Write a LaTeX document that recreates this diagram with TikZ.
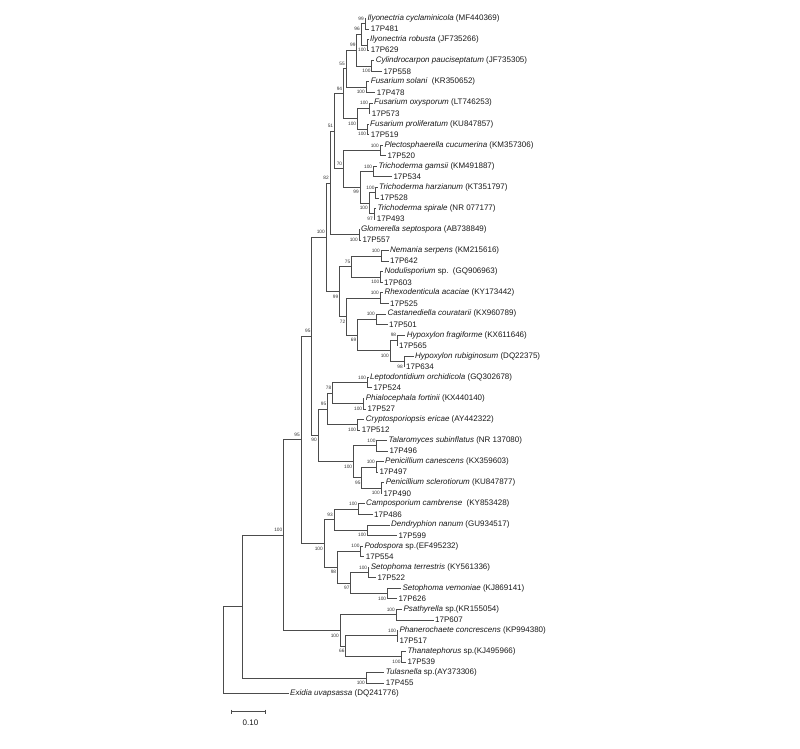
\documentclass[tikz,border=0pt]{standalone}
\usepackage{fontspec}
\setmainfont{Liberation Sans}
\tikzset{
  branch/.style={draw=black!70, line width=0.7pt},
  taxon/.style={anchor=west, inner sep=1.5pt, font=\fontsize{8}{9}\selectfont, text=black!90},
  boot/.style={anchor=east, inner sep=0pt, xshift=-1pt, font=\fontsize{4.8}{5.5}\selectfont, text=black!80},
  bu/.style={boot, yshift=5pt},
  bd/.style={boot, yshift=-5pt},
}
\begin{document}
\begin{tikzpicture}[x=1pt,y=-1pt]
\useasboundingbox (0,0) rectangle (800,748);
% taxa
\node[taxon] (t01) at (365.8,18.5) {\textit{Ilyonectria cyclaminicola} (MF440369)};
\node[taxon] (t02) at (369.2,29.05) {17P481};
\node[taxon] (t03) at (368.5,39.6) {\textit{Ilyonectria robusta} (JF735266)};
\node[taxon] (t04) at (369.2,50.15) {17P629};
\node[taxon] (t05) at (374.2,60.7) {\textit{Cylindrocarpon pauciseptatum} (JF735305)};
\node[taxon] (t06) at (381.8,71.25) {17P558};
\node[taxon] (t07) at (369.2,81.8) {\textit{Fusarium solani}\ \ (KR350652)};
\node[taxon] (t08) at (375.2,92.35) {17P478};
\node[taxon] (t09) at (372.5,102.9) {\textit{Fusarium oxysporum} (LT746253)};
\node[taxon] (t10) at (370.2,113.45) {17P573};
\node[taxon] (t11) at (368.5,124.0) {\textit{Fusarium proliferatum} (KU847857)};
\node[taxon] (t12) at (369.2,134.55) {17P519};
\node[taxon] (t13) at (382.8,145.1) {\textit{Plectosphaerella cucumerina} (KM357306)};
\node[taxon] (t14) at (385.8,155.65) {17P520};
\node[taxon] (t15) at (376.8,166.2) {\textit{Trichoderma gamsii} (KM491887)};
\node[taxon] (t16) at (391.8,176.75) {17P534};
\node[taxon] (t17) at (377.5,187.3) {\textit{Trichoderma harzianum} (KT351797)};
\node[taxon] (t18) at (378.5,197.85) {17P528};
\node[taxon] (t19) at (375.8,208.4) {\textit{Trichoderma spirale} (NR 077177)};
\node[taxon] (t20) at (375.2,218.95) {17P493};
\node[taxon] (t21) at (359.5,229.5) {\textit{Glomerella septospora} (AB738849)};
\node[taxon] (t22) at (360.8,240.05) {17P557};
\node[taxon] (t23) at (388.5,250.6) {\textit{Nemania serpens} (KM215616)};
\node[taxon] (t24) at (388.5,261.15) {17P642};
\node[taxon] (t25) at (382.8,271.7) {\textit{Nodulisporium} sp.\ \ (GQ906963)};
\node[taxon] (t26) at (382.5,282.25) {17P603};
\node[taxon] (t27) at (382.8,292.8) {\textit{Rhexodenticula acaciae} (KY173442)};
\node[taxon] (t28) at (388.5,303.35) {17P525};
\node[taxon] (t29) at (385.8,313.9) {\textit{Castanediella couratarii} (KX960789)};
\node[taxon] (t30) at (387.5,324.45) {17P501};
\node[taxon] (t31) at (405.2,335.0) {\textit{Hypoxylon fragiforme} (KX611646)};
\node[taxon] (t32) at (397.5,345.55) {17P565};
\node[taxon] (t33) at (413.5,356.1) {\textit{Hypoxylon rubiginosum} (DQ22375)};
\node[taxon] (t34) at (404.5,366.65) {17P634};
\node[taxon] (t35) at (368.5,377.2) {\textit{Leptodontidium orchidicola} (GQ302678)};
\node[taxon] (t36) at (371.8,387.75) {17P524};
\node[taxon] (t37) at (364.2,398.3) {\textit{Phialocephala fortinii} (KX440140)};
\node[taxon] (t38) at (365.8,408.85) {17P527};
\node[taxon] (t39) at (364.2,419.4) {\textit{Cryptosporiopsis ericae} (AY442322)};
\node[taxon] (t40) at (360.2,429.95) {17P512};
\node[taxon] (t41) at (386.8,440.5) {\textit{Talaromyces subinflatus} (NR 137080)};
\node[taxon] (t42) at (387.8,451.05) {17P496};
\node[taxon] (t43) at (383.5,461.6) {\textit{Penicillium canescens} (KX359603)};
\node[taxon] (t44) at (377.8,472.15) {17P497};
\node[taxon] (t45) at (384.2,482.7) {\textit{Penicillium sclerotiorum} (KU847877)};
\node[taxon] (t46) at (381.8,493.25) {17P490};
\node[taxon] (t47) at (364.5,503.8) {\textit{Camposporium cambrense}\ \ (KY853428)};
\node[taxon] (t48) at (372.5,514.35) {17P486};
\node[taxon] (t49) at (389.5,524.9) {\textit{Dendryphion nanum} (GU934517)};
\node[taxon] (t50) at (396.8,535.45) {17P599};
\node[taxon] (t51) at (362.8,546.0) {\textit{Podospora} sp.(EF495232)};
\node[taxon] (t52) at (364.2,556.55) {17P554};
\node[taxon] (t53) at (369.2,567.1) {\textit{Setophoma terrestris} (KY561336)};
\node[taxon] (t54) at (375.8,577.65) {17P522};
\node[taxon] (t55) at (400.8,588.2) {\textit{Setophoma vernoniae} (KJ869141)};
\node[taxon] (t56) at (396.8,598.75) {17P626};
\node[taxon] (t57) at (401.8,609.3) {\textit{Psathyrella} sp.(KR155054)};
\node[taxon] (t58) at (433.5,619.85) {17P607};
\node[taxon] (t59) at (397.8,630.4) {\textit{Phanerochaete concrescens} (KP994380)};
\node[taxon] (t60) at (397.8,640.95) {17P517};
\node[taxon] (t61) at (405.8,651.5) {\textit{Thanatephorus} sp.(KJ495966)};
\node[taxon] (t62) at (405.8,662.05) {17P539};
\node[taxon] (t63) at (384.2,672.6) {\textit{Tulasnella} sp.(AY373306)};
\node[taxon] (t64) at (384.2,683.15) {17P455};
\node[taxon] (t65) at (288.5,693.7) {\textit{Exidia uvapsassa} (DQ241776)};
% internal nodes
\coordinate (R) at (223,650.1);
\coordinate (A) at (242.5,606.49);
\coordinate (B) at (283.5,535.1);
\coordinate (Asc) at (301,439.8);
\coordinate (S) at (311.7,336.24);
\coordinate (S1) at (326,237.25);
\coordinate (S1a) at (330,183.01);
\coordinate (N12) at (334.3,131.25);
\coordinate (N8) at (343.3,93.67);
\coordinate (N6) at (346,68.61);
\coordinate (N4) at (356.7,50.15);
\coordinate (N2) at (361,34.33);
\coordinate (N1) at (365,23.78);
\coordinate (N3) at (367.3,44.88);
\coordinate (N5) at (371.7,65.98);
\coordinate (N7) at (366,87.08);
\coordinate (N9) at (357.3,118.73);
\coordinate (N10) at (369.3,108.18);
\coordinate (N11) at (367.3,129.28);
\coordinate (N13) at (343.3,168.84);
\coordinate (Ple) at (380,150.38);
\coordinate (Tri) at (360,187.3);
\coordinate (Tga) at (373.3,171.48);
\coordinate (HS) at (369,203.13);
\coordinate (Tha) at (375.7,192.58);
\coordinate (Tsp) at (374,213.68);
\coordinate (Glo) at (359,234.78);
\coordinate (X) at (339.5,291.48);
\coordinate (N75) at (351.5,266.43);
\coordinate (Nem) at (381,255.88);
\coordinate (Nod) at (380.5,276.98);
\coordinate (N72) at (346.5,316.54);
\coordinate (Rhx) at (380,298.08);
\coordinate (N69) at (357.5,335.0);
\coordinate (Cas) at (376,319.18);
\coordinate (Hyp) at (390,350.83);
\coordinate (Hfr) at (397.3,340.28);
\coordinate (Hru) at (404,361.38);
\coordinate (N90) at (318,435.23);
\coordinate (Leo) at (327.5,408.85);
\coordinate (N78) at (332.5,393.03);
\coordinate (Lep) at (367.3,382.48);
\coordinate (Phi) at (363.3,403.58);
\coordinate (Cry) at (357.3,424.68);
\coordinate (Eur) at (353.3,461.6);
\coordinate (Tal) at (376.7,445.78);
\coordinate (Pen) at (361.7,477.43);
\coordinate (Pca) at (376,466.88);
\coordinate (Psc) at (381,487.98);
\coordinate (D) at (324,543.36);
\coordinate (N93) at (334,519.63);
\coordinate (Cam) at (358.3,509.08);
\coordinate (Den) at (367.3,530.18);
\coordinate (N98) at (337.3,567.1);
\coordinate (Pod) at (360.7,551.28);
\coordinate (N97) at (350.7,582.93);
\coordinate (Ste) at (368.3,572.38);
\coordinate (Sve) at (387.3,593.48);
\coordinate (Bas) at (340,630.4);
\coordinate (Psa) at (396,614.58);
\coordinate (N66) at (345.7,646.23);
\coordinate (Pha) at (397.3,635.68);
\coordinate (Than) at (401.7,656.78);
\coordinate (Tul) at (366,677.88);
% branches
\foreach \p/\c in {R/A, R/t65.west, A/B, A/Tul, Tul/t63.west, Tul/t64.west,
  B/Asc, B/Bas, Bas/Psa, Bas/N66, Psa/t57.west, Psa/t58.west, N66/Pha, N66/Than,
  Pha/t59.west, Pha/t60.west, Than/t61.west, Than/t62.west,
  Asc/S, Asc/D, D/N93, D/N98, N93/Cam, N93/Den, Cam/t47.west, Cam/t48.west,
  Den/t49.west, Den/t50.west, N98/Pod, N98/N97, Pod/t51.west, Pod/t52.west,
  N97/Ste, N97/Sve, Ste/t53.west, Ste/t54.west, Sve/t55.west, Sve/t56.west,
  S/S1, S/N90, N90/Leo, N90/Eur, Leo/N78, Leo/Cry, N78/Lep, N78/Phi,
  Lep/t35.west, Lep/t36.west, Phi/t37.west, Phi/t38.west, Cry/t39.west, Cry/t40.west,
  Eur/Tal, Eur/Pen, Tal/t41.west, Tal/t42.west, Pen/Pca, Pen/Psc,
  Pca/t43.west, Pca/t44.west, Psc/t45.west, Psc/t46.west,
  S1/S1a, S1/X, X/N75, X/N72, N75/Nem, N75/Nod, Nem/t23.west, Nem/t24.west,
  Nod/t25.west, Nod/t26.west, N72/Rhx, N72/N69, Rhx/t27.west, Rhx/t28.west,
  N69/Cas, N69/Hyp, Cas/t29.west, Cas/t30.west, Hyp/Hfr, Hyp/Hru,
  Hfr/t31.west, Hfr/t32.west, Hru/t33.west, Hru/t34.west,
  S1a/N12, S1a/Glo, Glo/t21.west, Glo/t22.west, N12/N8, N12/N13,
  N13/Ple, N13/Tri, Ple/t13.west, Ple/t14.west, Tri/Tga, Tri/HS,
  Tga/t15.west, Tga/t16.west, HS/Tha, HS/Tsp, Tha/t17.west, Tha/t18.west,
  Tsp/t19.west, Tsp/t20.west, N8/N6, N8/N9, N6/N4, N6/N7, N4/N2, N4/N5,
  N2/N1, N2/N3, N1/t01.west, N1/t02.west, N3/t03.west, N3/t04.west,
  N5/t05.west, N5/t06.west, N7/t07.west, N7/t08.west, N9/N10, N9/N11,
  N10/t09.west, N10/t10.west, N11/t11.west, N11/t12.west}
  \draw[branch] (\p) |- (\c);
% bootstrap values
\node[bu] at (N1) {99};
\node[bd] at (N3) {100};
\node[bu] at (N2) {96};
\node[bu] at (N4) {99};
\node[bd] at (N5) {100};
\node[bu] at (N6) {55};
\node[bd] at (N7) {100};
\node[bu] at (N8) {94};
\node[bd] at (N9) {100};
\node[bu] at (N10) {100};
\node[bd] at (N11) {100};
\node[bu] at (N12) {51};
\node[bu] at (N13) {70};
\node[bu] at (Ple) {100};
\node[bu] at (Tga) {100};
\node[bd] at (Tri) {99};
\node[bd] at (HS) {100};
\node[bu] at (Tha) {100};
\node[bd] at (Tsp) {97};
\node[bd] at (Glo) {100};
\node[bu] at (S1a) {82};
\node[bu] at (S1) {100};
\node[bd] at (X) {99};
\node[bu] at (N75) {75};
\node[bu] at (Nem) {100};
\node[bd] at (Nod) {100};
\node[bd] at (N72) {72};
\node[bu] at (Rhx) {100};
\node[bd] at (N69) {69};
\node[bu] at (Cas) {100};
\node[bd] at (Hyp) {100};
\node[bu] at (Hfr) {98};
\node[bd] at (Hru) {98};
\node[bu] at (S) {95};
\node[bd] at (N90) {90};
\node[bu] at (Leo) {95};
\node[bu] at (N78) {78};
\node[bu] at (Lep) {100};
\node[bd] at (Phi) {100};
\node[bd] at (Cry) {100};
\node[bd] at (Eur) {100};
\node[bu] at (Tal) {100};
\node[bd] at (Pen) {95};
\node[bu] at (Pca) {100};
\node[bd] at (Psc) {100};
\node[bu] at (Asc) {95};
\node[bd] at (D) {100};
\node[bu] at (N93) {93};
\node[bu] at (Cam) {100};
\node[bd] at (Den) {100};
\node[bd] at (N98) {98};
\node[bu] at (Pod) {100};
\node[bd] at (N97) {97};
\node[bu] at (Ste) {100};
\node[bd] at (Sve) {100};
\node[bu] at (B) {100};
\node[bd] at (Bas) {100};
\node[bu] at (Psa) {100};
\node[bd] at (N66) {66};
\node[bu] at (Pha) {100};
\node[bd] at (Than) {100};
\node[bd] at (Tul) {100};
% scale bar
\coordinate (sb1) at (231,711.7);
\coordinate (sb2) at (265.7,711.7);
\draw[branch] (sb1) -- (sb2);
\draw[branch] ([yshift=2pt]sb1) -- ([yshift=-2pt]sb1);
\draw[branch] ([yshift=2pt]sb2) -- ([yshift=-2pt]sb2);
\node[font=\fontsize{8}{9}\selectfont, text=black!90] (sbl) at (250.5,722.5) {0.10};
\end{tikzpicture}
\end{document}
